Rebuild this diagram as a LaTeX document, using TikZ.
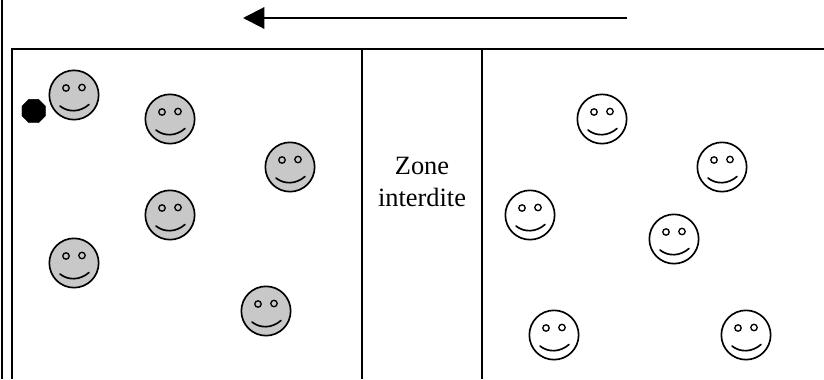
\documentclass[tikz,border=0pt]{standalone}
\usepackage{fontspec}
\setmainfont{Liberation Serif}
\usetikzlibrary{arrows.meta,shapes.geometric}
\definecolor{facegray}{HTML}{C8C8C8}
\tikzset{
  frameline/.style={draw=black,line width=1.75pt},
  facering/.style={draw=black,line width=1.25pt},
  faceline/.style={draw=black,line width=1.25pt,line cap=round},
  eyedot/.style={draw=black,line width=1pt,circle,minimum size=4.8pt,inner sep=0pt},
  pics/smiley/.style={code={
    \node[circle,facering,fill=#1,minimum size=37pt,inner sep=0pt] (-head) at (0,0) {};
    \node[eyedot,fill=#1] (-leye) at (-8,-7) {};
    \node[eyedot,fill=#1] (-reye) at (8,-7.5) {};
    \draw[faceline] (-14,11) .. controls (-6,17.5) and (6,17.5) .. (15,9.5);
  }}
}
\begin{document}
\begin{tikzpicture}[x=0.75pt,y=-0.75pt]
\useasboundingbox (0,0) rectangle (824,379);
% frame
\coordinate (olt) at (2,0);
\coordinate (olb) at (2,379);
\coordinate (ilb) at (12,379);
\coordinate (itl) at (12,49);
\coordinate (itr) at (824,49);
\coordinate (m1t) at (362,49);
\coordinate (m1b) at (362,379);
\coordinate (m2t) at (482,49);
\coordinate (m2b) at (482,379);
\draw[frameline] (olt) -- (olb);
\draw[frameline] (ilb) -- (itl) -- (itr);
\draw[frameline] (m1t) -- (m1b);
\draw[frameline] (m2t) -- (m2b);
% arrow
\coordinate (arrs) at (627,18);
\coordinate (arre) at (243,18);
\draw[line width=1.6pt,-{Triangle[length=16pt,width=16pt]}] (arrs) -- (arre);
% label
\node[align=center,font=\fontsize{19.8pt}{24pt}\selectfont,inner sep=0pt] (zone) at (422,182) {Zone\\interdite};
% dot
\node[regular polygon,regular polygon sides=8,fill=black,draw=black,line width=0.3pt,minimum size=19pt,inner sep=0pt] (ball) at (33.7,111) {};
% gray faces
\pic (g1) at (74,95) {smiley=facegray};
\pic (g2) at (170,119) {smiley=facegray};
\pic (g3) at (290,167) {smiley=facegray};
\pic (g4) at (170,215) {smiley=facegray};
\pic (g5) at (74,263) {smiley=facegray};
\pic (g6) at (266,311) {smiley=facegray};
% white faces
\pic (w1) at (602,119) {smiley=white};
\pic (w2) at (722,167) {smiley=white};
\pic (w3) at (530,215) {smiley=white};
\pic (w4) at (674,239) {smiley=white};
\pic (w5) at (554,335) {smiley=white};
\pic (w6) at (746,335) {smiley=white};
\end{tikzpicture}
\end{document}
